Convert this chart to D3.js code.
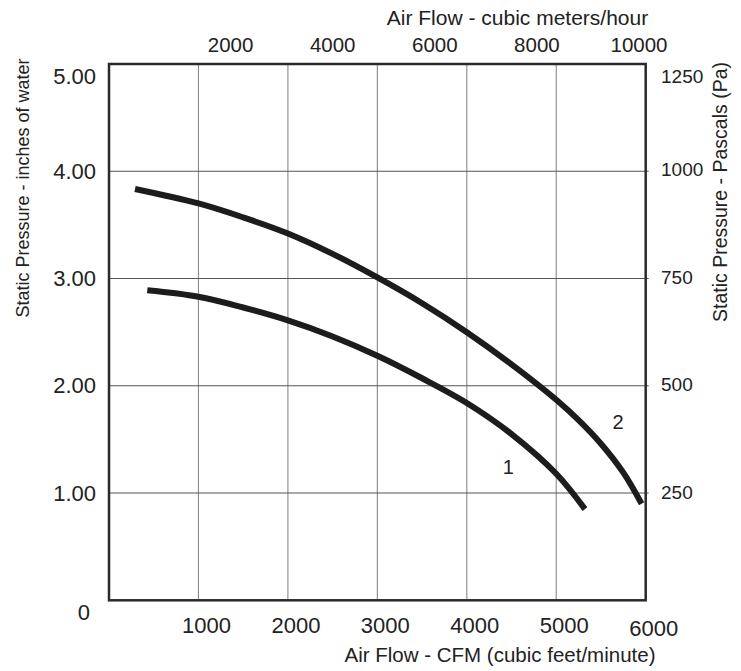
<!DOCTYPE html>
<html>
<head>
<meta charset="utf-8">
<script src="https://cdn.jsdelivr.net/npm/d3@7"></script>
<style>
  html, body { margin: 0; padding: 0; background: #fff; }
  svg { display: block; }
  text { font-family: "Liberation Sans", Arial, Helvetica, sans-serif; fill: #222; }
</style>
</head>
<body>
<svg id="chart" width="741" height="671"></svg>
<script>
// ---- data ----
const cfmTicks = [1000, 2000, 3000, 4000, 5000, 6000];
const cfmGrid = [1000, 2000, 3000, 4000, 5000];
const m3hTicks = [2000, 4000, 6000, 8000, 10000];
const inchTicks = [5, 4, 3, 2, 1, 0];
const inchLabels = ["5.00", "4.00", "3.00", "2.00", "1.00", "0"];
const inchGrid = [1, 2, 3, 4];
const paTicks = [1250, 1000, 750, 500, 250];

// curve 1 (lower)
const curve1Cfm = [428, 1000, 1500, 2000, 2500, 3000, 3500, 4000, 4500, 5000, 5321];
const curve1Sp  = [2.89, 2.83, 2.73, 2.61, 2.46, 2.28, 2.07, 1.84, 1.55, 1.18, 0.85];
// curve 2 (upper)
const curve2Cfm = [291, 1000, 1500, 2000, 2500, 3000, 3500, 4000, 4500, 5000, 5250, 5500, 5750, 5954];
const curve2Sp  = [3.835, 3.70, 3.57, 3.42, 3.23, 3.01, 2.77, 2.50, 2.20, 1.87, 1.68, 1.46, 1.19, 0.90];

const curveLabels = ["1", "2"];
const curveLabelCfm = [4465, 5690];
const curveLabelSp = [1.24, 1.66];

const titleBottom = "Air Flow - CFM (cubic feet/minute)";
const titleTop = "Air Flow - cubic meters/hour";
const titleLeft = "Static Pressure - inches of water";
const titleRight = "Static Pressure - Pascals (Pa)";

// ---- layout ----
const L = 109, R = 645.7, T = 64, B = 600.3;
const svg = d3.select("#chart");

const x = d3.scaleLinear().domain([0, 6000]).range([L, R]);
const y = d3.scaleLinear().domain([0, 5]).range([B, T]);
const yPa = d3.scaleLinear().domain([0, 5 * 249.09]).range([B, T]);
const xTop = d3.scaleLinear().domain([0, 10000]).range([128.5, 639]);

// gridlines
svg.append("g").selectAll("line").data(cfmGrid).join("line")
  .attr("x1", d => x(d)).attr("x2", d => x(d))
  .attr("y1", T).attr("y2", B)
  .attr("stroke", "#8a8a8a").attr("stroke-width", 1.1);

svg.append("g").selectAll("line").data(inchGrid).join("line")
  .attr("x1", L).attr("x2", R + 3)
  .attr("y1", d => y(d)).attr("y2", d => y(d))
  .attr("stroke", "#555").attr("stroke-width", 1.1);

// frame
svg.append("rect")
  .attr("x", L).attr("y", T).attr("width", R - L).attr("height", B - T)
  .attr("fill", "none").attr("stroke", "#2a2a2a").attr("stroke-width", 2.5);

// curves
const line = d3.line().x(d => x(d[0])).y(d => y(d[1])).curve(d3.curveCatmullRom.alpha(0.5));
[[curve1Cfm, curve1Sp], [curve2Cfm, curve2Sp]].forEach(([cx, cy]) => {
  svg.append("path")
    .datum(cx.map((v, i) => [v, cy[i]]))
    .attr("d", line)
    .attr("fill", "none")
    .attr("stroke", "#1c1c1c")
    .attr("stroke-width", 6)
    .attr("stroke-linecap", "butt");
});

// curve labels
svg.append("g").selectAll("text").data(curveLabels).join("text")
  .attr("x", (d, i) => x(curveLabelCfm[i]))
  .attr("y", (d, i) => y(curveLabelSp[i]))
  .attr("text-anchor", "middle").attr("dominant-baseline", "central")
  .attr("font-size", 20).text(d => d);

// left tick labels
svg.append("g").selectAll("text").data(inchTicks).join("text")
  .attr("x", d => d === 0 ? 90 : 96)
  .attr("y", d => d === 0 ? y(d) + 12 : Math.max(y(d), T + 12))
  .attr("text-anchor", "end").attr("dominant-baseline", "central")
  .attr("font-size", 22).text((d, i) => inchLabels[i]);

// right tick labels
svg.append("g").selectAll("text").data(paTicks).join("text")
  .attr("x", 661)
  .attr("y", d => Math.max(yPa(d), T + 12))
  .attr("text-anchor", "start").attr("dominant-baseline", "central")
  .attr("font-size", 19).text(d => d);

// bottom tick labels
svg.append("g").selectAll("text").data(cfmTicks).join("text")
  .attr("x", d => x(d) + 8)
  .attr("y", d => d === 6000 ? 636 : 633)
  .attr("text-anchor", "middle")
  .attr("font-size", 22).text(d => d);

// top tick labels
svg.append("g").selectAll("text").data(m3hTicks).join("text")
  .attr("x", d => xTop(d))
  .attr("y", 52)
  .attr("text-anchor", "middle")
  .attr("font-size", 20.5).text(d => d);

// axis titles
svg.append("text").attr("x", 500).attr("y", 662).attr("text-anchor", "middle")
  .attr("font-size", 20.5).text(titleBottom);
svg.append("text").attr("x", 517.5).attr("y", 25).attr("text-anchor", "middle")
  .attr("font-size", 21).text(titleTop);
svg.append("text").attr("transform", "translate(29,188) rotate(-90)")
  .attr("text-anchor", "middle").attr("font-size", 18).text(titleLeft);
svg.append("text").attr("transform", "translate(727,192) rotate(-90)")
  .attr("text-anchor", "middle").attr("font-size", 19.5).text(titleRight);
</script>
</body>
</html>
